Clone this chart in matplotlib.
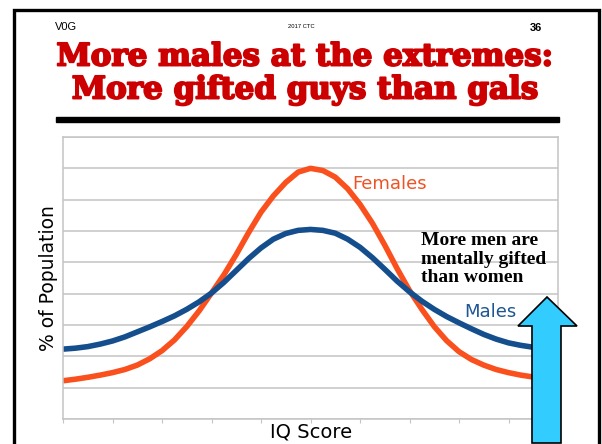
import matplotlib
matplotlib.use('Agg')
import matplotlib.pyplot as plt
import matplotlib.patheffects as pe
from matplotlib.patches import Rectangle, Polygon
import numpy as np

# data (x in tick units, y in gridline units)
iq_x = np.arange(0, 10.01, 0.25)
females = [1.22, 1.27, 1.33, 1.40, 1.48, 1.58, 1.72, 1.92, 2.18, 2.52,
           2.95, 3.45, 4.02, 4.60, 5.25, 5.95, 6.60, 7.12, 7.55, 7.88,
           8.00, 7.93, 7.72, 7.35, 6.85, 6.25, 5.55, 4.80, 4.10, 3.50,
           2.95, 2.50, 2.15, 1.90, 1.72, 1.58, 1.48, 1.40, 1.34, 1.29, 1.25]
males = [2.23, 2.26, 2.31, 2.39, 2.49, 2.62, 2.78, 2.94, 3.11, 3.29,
         3.50, 3.74, 4.02, 4.36, 4.74, 5.12, 5.46, 5.74, 5.92, 6.02,
         6.05, 6.02, 5.93, 5.74, 5.48, 5.15, 4.78, 4.40, 4.06, 3.76,
         3.50, 3.27, 3.07, 2.88, 2.70, 2.55, 2.43, 2.35, 2.29, 2.25, 2.22]

W, H = 602, 444
fem_color = '#F9501E'
male_color = '#154E8C'
grid_color = '#C4C4C4'
title_color = '#CC0000'

fig = plt.figure(figsize=(W / 100, H / 100), dpi=100)


def px(x, y):
    # pixel position (top-left origin) -> figure fraction
    return x / W, 1 - y / H


# slide frame
fig.patches.append(Rectangle(px(13.5, 460), (599 - 13.5) / W, (460 - 10) / H,
                             transform=fig.transFigure, fill=False,
                             edgecolor='black', linewidth=2.4))

# header
fig.text(*px(55, 27), 'V0G', fontsize=8, family='Liberation Sans', va='center', ha='left')
fig.text(*px(301, 26), '2017 CTC', fontsize=4.2, family='Liberation Sans', va='center', ha='center')
fig.text(*px(536, 28), '36', fontsize=8, family='Liberation Sans', weight='bold', va='center', ha='center')

# title, thickened to look like the heavy slab face of the slide
heavy = [pe.withStroke(linewidth=1.4, foreground=title_color)]
fig.text(*px(305, 57), 'More males at the extremes:', fontsize=22.3, family='DejaVu Serif',
         weight='bold', color=title_color, ha='center', va='center', path_effects=heavy)
fig.text(*px(305, 90), 'More gifted guys than gals', fontsize=22.3, family='DejaVu Serif',
         weight='bold', color=title_color, ha='center', va='center', path_effects=heavy)
fig.patches.append(Rectangle(px(56, 122), (559 - 56) / W, 5 / H,
                             transform=fig.transFigure, color='black'))

# chart
l, r, t, b = 63, 558, 137, 419
ax = fig.add_axes([l / W, 1 - b / H, (r - l) / W, (b - t) / H])
ax.set_xlim(0, 10)
ax.set_ylim(0, 9)
ax.set_yticks(np.arange(0, 10))
ax.set_xticks(np.arange(0, 11))
ax.grid(axis='y', color=grid_color, linewidth=1.1)
ax.set_axisbelow(True)
for s in ax.spines.values():
    s.set_color(grid_color)
    s.set_linewidth(1.1)
ax.tick_params(axis='y', length=0, labelleft=False)
ax.tick_params(axis='x', length=3, color=grid_color, labelbottom=False)

ax.plot(iq_x, females, color=fem_color, linewidth=4, solid_capstyle='butt')
ax.plot(iq_x, males, color=male_color, linewidth=4, solid_capstyle='butt')

ax.text(6.6, 7.5, 'Females', color='#EE5326', fontsize=13, family='DejaVu Sans',
        ha='center', va='center')
ax.text(8.63, 3.42, 'Males', color='#1E5592', fontsize=13, family='DejaVu Sans',
        ha='center', va='center')
ax.text(7.23, 5.1, 'More men are\nmentally gifted\nthan women', fontsize=14,
        family='Liberation Serif', weight='bold', ha='left', va='center', linespacing=1.12)

fig.text(*px(49, 278), '% of Population', fontsize=13.5, family='DejaVu Sans',
         rotation=90, ha='center', va='center')
fig.text(*px(311, 432), 'IQ Score', fontsize=14, family='DejaVu Sans',
         ha='center', va='center')

# arrow
arrow_pts = [(547, 297), (577, 326), (561, 326), (561, 443), (532, 443),
             (532, 326), (518, 326)]
fig.patches.append(Polygon([px(x, y) for x, y in arrow_pts], closed=True,
                           transform=fig.transFigure, facecolor='#33CCFF',
                           edgecolor='black', linewidth=1.2, zorder=5))

fig.savefig('out.png', dpi=100)
